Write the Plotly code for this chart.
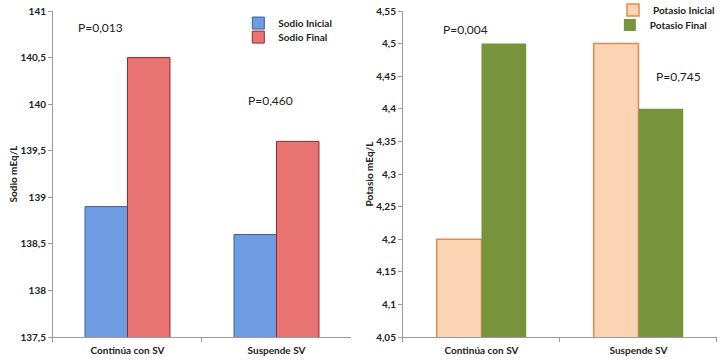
import plotly.graph_objects as go

# data
grupos = ["Continúa con SV", "Suspende SV"]
sodio_inicial = [138.9, 138.6]
sodio_final = [140.5, 139.6]
potasio_inicial = [4.2, 4.5]
potasio_final = [4.5, 4.4]

sodio_ticks = [137.5, 138, 138.5, 139, 139.5, 140, 140.5, 141]
sodio_labels = ["137,5", "138", "138,5", "139", "139,5", "140", "140,5", "141"]
potasio_ticks = [4.05, 4.1, 4.15, 4.2, 4.25, 4.3, 4.35, 4.4, 4.45, 4.5, 4.55]
potasio_labels = ["4,05", "4,1", "4,15", "4,2", "4,25", "4,3", "4,35", "4,4", "4,45", "4,5", "4,55"]

p_sodio = ["P=0,013", "P=0,460"]
p_potasio = ["P=0,004", "P=0,745"]

FONT = "Lato"
txt = "#222222"

fig = go.Figure()

# one legend per entry so the rows can sit closer than plotly's default spacing
fig.add_trace(go.Bar(x=grupos, y=sodio_inicial, name="<b>Sodio Inicial</b>",
                     marker=dict(color="#6f9be2", line=dict(color="#3d5f96", width=1)),
                     xaxis="x", yaxis="y", legend="legend"))
fig.add_trace(go.Bar(x=grupos, y=sodio_final, name="<b>Sodio Final</b>",
                     marker=dict(color="#ea7373", line=dict(color="#8e2b2b", width=1)),
                     xaxis="x", yaxis="y", legend="legend2"))
fig.add_trace(go.Bar(x=grupos, y=potasio_inicial, name="<b>Potasio Inicial</b>",
                     marker=dict(color="#fbd4b4", line=dict(color="#e38a4c", width=1.5)),
                     xaxis="x2", yaxis="y2", legend="legend3"))
fig.add_trace(go.Bar(x=grupos, y=potasio_final, name="<b>Potasio Final</b>",
                     marker=dict(color="#77933c", line=dict(color="#77933c", width=0)),
                     xaxis="x2", yaxis="y2", legend="legend4"))

tickf = dict(family=FONT, size=10, color=txt, weight="bold")
axis_common = dict(showline=True, linecolor="#9a9a9a", linewidth=1, showgrid=False,
                   zeroline=False, ticks="outside", ticklen=4, tickcolor="#9a9a9a",
                   tickfont=tickf)
titlef = dict(family=FONT, size=10, color=txt, weight="bold")
legf = dict(family=FONT, size=10, color=txt)


def leg(x, y, xanchor="left"):
    return dict(x=x, y=y, xanchor=xanchor, yanchor="middle", bgcolor="rgba(0,0,0,0)",
                font=legf, itemwidth=30, tracegroupgap=0, visible=True)


fig.update_layout(
    width=720, height=360,
    showlegend=True,
    margin=dict(l=0, r=0, t=11, b=23, autoexpand=False),
    paper_bgcolor="white", plot_bgcolor="white",
    barmode="group", bargap=0.43, bargroupgap=0,
    separators=",.",
    font=dict(family=FONT, color=txt),
    xaxis=dict(domain=[0.0736, 0.4875], anchor="y", tickson="boundaries",
               ticklabelstandoff=4, **axis_common),
    yaxis=dict(range=[137.5, 141], tickvals=sodio_ticks, ticktext=sodio_labels, anchor="x",
               ticklabeloverflow="allow",
               title=dict(text="Sodio mEq/L", font=titlef, standoff=0), **axis_common),
    xaxis2=dict(domain=[0.5597, 0.9958], anchor="y2", tickson="boundaries",
                ticklabelstandoff=4, **axis_common),
    yaxis2=dict(range=[4.05, 4.55], tickvals=potasio_ticks, ticktext=potasio_labels, anchor="x2",
                ticklabeloverflow="allow",
                title=dict(text="Potasio mEq/L", font=titlef, standoff=0), **axis_common),
    legend=leg(0.331, 0.963),
    legend2=leg(0.331, 0.920),
    legend3=leg(1.0, 1.003, "right"),
    legend4=leg(0.847, 0.957),
)

fig.add_annotation(x=grupos[0], y=140.82, xref="x", yref="y", text=p_sodio[0], showarrow=False,
                   xshift=-27, font=dict(family=FONT, size=12, color=txt))
fig.add_annotation(x=grupos[1], y=140.04, xref="x", yref="y", text=p_sodio[1], showarrow=False,
                   xshift=-6, font=dict(family=FONT, size=12, color=txt))
fig.add_annotation(x=grupos[0], y=4.521, xref="x2", yref="y2", text=p_potasio[0], showarrow=False,
                   xshift=-16, font=dict(family=FONT, size=12, color=txt))
fig.add_annotation(x=grupos[1], y=4.45, xref="x2", yref="y2", text=p_potasio[1], showarrow=False,
                   xshift=40, font=dict(family=FONT, size=12, color=txt))

# drop the browser's default 8px body margin so the 720x360 figure fills the window
fig.write_html("out.html", config={"displayModeBar": False},
               post_script="document.body.style.margin='0';")
